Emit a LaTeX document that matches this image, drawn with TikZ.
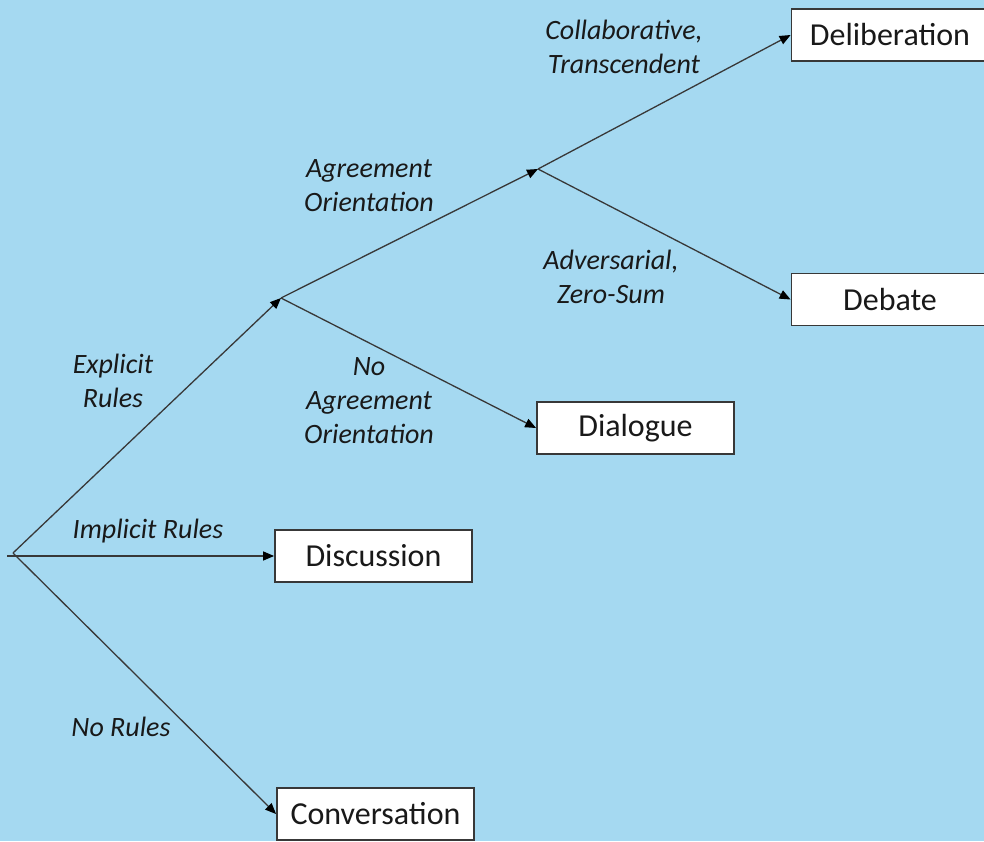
\documentclass[tikz,border=0pt]{standalone}
\usepackage{fontspec}
\setmainfont{Carlito}
\usepackage{tikz}
\usetikzlibrary{arrows.meta,positioning}
\definecolor{fond}{RGB}{165,217,241}
\definecolor{trait}{RGB}{56,56,56}
\tikzset{
	boite/.style={draw=trait,line width=1.8pt,fill=white,minimum width=197pt,minimum height=52pt,inner sep=0pt,text=black!90,font=\fontsize{32}{38}\selectfont},
	etiq/.style={align=center,text=black!90,font=\fontsize{28}{34}\selectfont\itshape},
	fleche/.style={draw=trait,line width=1.3pt,-{Triangle[length=11pt,width=9pt,color=black]}}
}
\begin{document}
\begin{tikzpicture}[x=1pt,y=-1pt]
	\clip (0,0) rectangle (984,841);
	\fill[fond] (0,0) rectangle (984,841);
	
	%Points de branchement
	\coordinate (racine) at (13,553);
	\coordinate (racineG) at (7,556);
	\coordinate (j1) at (281,298);
	\coordinate (j2) at (538,169);
	
	%Boites
	\node[boite] (delib) at (890,35) {Deliberation};
	\node[boite] (debat) at (890,299.5) {Debate};
	\node[boite] (dialog) at (635.5,428) {Dialogue};
	\node[boite] (discu) at (373.5,556) {Discussion};
	\node[boite] (conv) at (375.5,814) {Conversation};
	
	%Branches
	\draw[fleche] (racine) -- (j1);
	\draw[fleche] (racineG) -- (discu.west);
	\draw[fleche] (racine) -- (conv.west);
	\draw[fleche] (j1) -- (j2);
	\draw[fleche] (j1) -- (dialog.west);
	\draw[fleche] (j2) -- (delib.west);
	\draw[fleche] (j2) -- (debat.west);
	
	%Etiquettes
	\node[etiq] (collab) at (624,47) {Collaborative,\\Transcendent};
	\node[etiq] (accord) at (369,186) {Agreement\\Orientation};
	\node[etiq] (advers) at (611,277) {Adversarial,\\Zero-Sum};
	\node[etiq] (pasaccord) at (369,401) {No\\Agreement\\Orientation};
	\node[etiq] (explicite) at (113,381) {Explicit\\Rules};
	\node[etiq] (implicite) at (148,531) {Implicit Rules};
	\node[etiq] (aucune) at (121,727) {No Rules};
\end{tikzpicture}
\end{document}
